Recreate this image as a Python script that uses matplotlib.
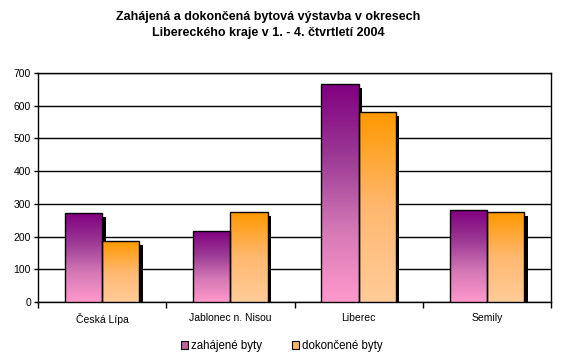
import matplotlib
matplotlib.use("Agg")
import matplotlib.pyplot as plt
import numpy as np
from matplotlib.colors import LinearSegmentedColormap
from matplotlib.patches import Rectangle
import matplotlib.patheffects as pe

plt.rcParams['font.family'] = ['Liberation Sans', 'DejaVu Sans']

categories = ["Česká Lípa", "Jablonec n. Nisou", "Liberec", "Semily"]
zahajene = [271, 216, 665, 280]
dokoncene = [185, 274, 580, 274]
series_names = ["zahájené byty", "dokončené byty"]
yticks = [0, 100, 200, 300, 400, 500, 600, 700]
title = "Zahájená a dokončená bytová výstavba v okresech\nLibereckého kraje v 1. - 4. čtvrtletí 2004"

purple_cmap = LinearSegmentedColormap.from_list("p", ["#FF99CC", "#D478B5", "#9C3A95", "#800080"])
orange_cmap = LinearSegmentedColormap.from_list("o", ["#FFCC99", "#FFB870", "#FF9900"])

fig = plt.figure(figsize=(5.73, 3.61), dpi=100)
ax = fig.add_axes([38/573, 1-302/361, (551-38)/573, (302-73)/361])

x = np.arange(len(categories))
w = 0.29
grad = np.linspace(0, 1, 256).reshape(-1, 1)

def draw_bars(xs, vals, cmap):
    bars = ax.bar(xs, vals, width=w, facecolor='white', edgecolor='none', zorder=2,
                  path_effects=[pe.SimplePatchShadow(offset=(2.5, -2.5), shadow_rgbFace='black', alpha=1.0), pe.Normal()])
    for b in bars:
        x0, y0 = b.get_x(), b.get_y()
        bw, bh = b.get_width(), b.get_height()
        im = ax.imshow(grad, cmap=cmap, aspect='auto', origin='lower',
                       extent=[x0, x0 + bw, y0, y0 + bh], zorder=3, interpolation='bilinear')
        im.set_clip_path(b)
    ax.bar(xs, vals, width=w, facecolor='none', edgecolor='black', linewidth=1.0, zorder=4)

draw_bars(x - w/2, zahajene, purple_cmap)
draw_bars(x + w/2, dokoncene, orange_cmap)

ax.set_xlim(-0.5, len(categories) - 0.5)
ax.set_ylim(0, 700)
ax.set_yticks(yticks)
ax.set_yticklabels([str(v) for v in yticks], fontsize=7.5)
ax.yaxis.grid(True, color='black', linewidth=1.0, zorder=1)
ax.set_axisbelow(True)
ax.set_xticks(x)
ax.set_xticklabels(categories, fontsize=7.5)
ax.tick_params(axis='x', which='major', length=0, pad=8)
ax.set_xticks(np.arange(len(categories) + 1) - 0.5, minor=True)
ax.tick_params(axis='x', which='minor', length=4, width=1, direction='out', color='black')
ax.tick_params(axis='y', length=3, width=1, direction='out', pad=2)
for s in ax.spines.values():
    s.set_color('black')
    s.set_linewidth(1.0)

fig.text(268/573, 1-25/361, title, ha='center', va='center', fontsize=9, fontweight='bold', linespacing=1.35)

handles = [Rectangle((0, 0), 1, 1, facecolor='#C0609F', edgecolor='black', linewidth=0.8),
           Rectangle((0, 0), 1, 1, facecolor='#FFB566', edgecolor='black', linewidth=0.8)]
fig.legend(handles, series_names, loc='center', bbox_to_anchor=(282/573, 1-346/361), ncol=2,
           frameon=False, fontsize=8.3, handlelength=0.6, handleheight=0.6, handletextpad=0.25,
           columnspacing=2.6)

fig.savefig("out.png", dpi=100)
